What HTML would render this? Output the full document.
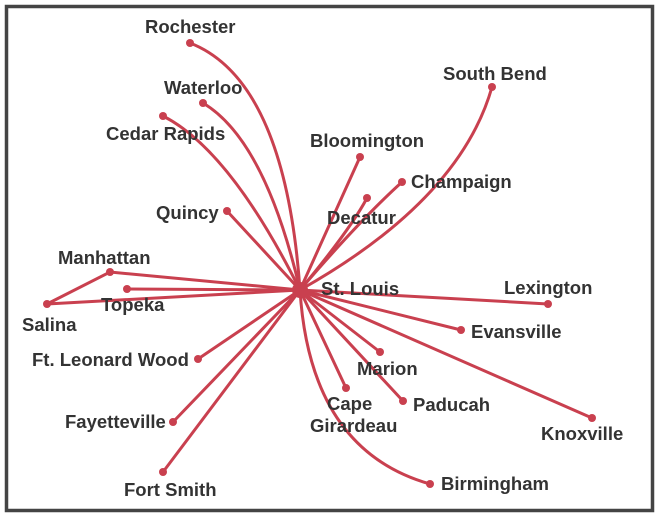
<!DOCTYPE html>
<html><head><style>
body{margin:0;background:#fff;}
svg{display:block}
text{font-family:"Liberation Sans",Arial,sans-serif;font-weight:bold;font-size:18.5px;fill:#333;}
</style></head><body>
<svg width="660" height="518" viewBox="0 0 660 518">
<rect x="0" y="0" width="660" height="518" fill="#fff"/>
<rect x="6.5" y="6.5" width="646" height="504" fill="none" stroke="#444" stroke-width="3.5"/>
<g fill="none" stroke="#c9404f" stroke-width="3" stroke-linecap="round">
<path d="M300 290 Q285 80 190 43"/>
<path d="M300 290 Q265 140 203 103"/>
<path d="M300 290 Q230 150 163 116"/>
<path d="M300 290 L227 211"/>
<path d="M300 290 L110 272 L47 304 L300 290"/>
<path d="M300 290 L127 289"/>
<path d="M300 290 L198 359"/>
<path d="M300 290 L173 422"/>
<path d="M300 290 L163 472"/>
<path d="M300 290 Q310 450 430 484"/>
<path d="M300 290 L346 388"/>
<path d="M300 290 L403 401"/>
<path d="M300 290 L380 352"/>
<path d="M300 290 L592 418"/>
<path d="M300 290 L461 330"/>
<path d="M300 290 L548 304"/>
<path d="M300 290 Q360 220 402 182"/>
<path d="M300 290 Q350 230 367 198"/>
<path d="M300 290 L360 157"/>
<path d="M300 290 Q460 200 492 87"/>
</g>
<circle cx="300" cy="290" r="8" fill="#c9404f"/>
<g fill="#c9404f">
<circle cx="190" cy="43" r="4"/><circle cx="203" cy="103" r="4"/><circle cx="163" cy="116" r="4"/>
<circle cx="227" cy="211" r="4"/><circle cx="110" cy="272" r="4"/><circle cx="127" cy="289" r="4"/>
<circle cx="47" cy="304" r="4"/><circle cx="198" cy="359" r="4"/><circle cx="173" cy="422" r="4"/>
<circle cx="163" cy="472" r="4"/><circle cx="430" cy="484" r="4"/><circle cx="346" cy="388" r="4"/>
<circle cx="403" cy="401" r="4"/><circle cx="380" cy="352" r="4"/><circle cx="592" cy="418" r="4"/>
<circle cx="461" cy="330" r="4"/><circle cx="548" cy="304" r="4"/><circle cx="402" cy="182" r="4"/>
<circle cx="367" cy="198" r="4"/><circle cx="360" cy="157" r="4"/><circle cx="492" cy="87" r="4"/>
</g>
<text x="145" y="33">Rochester</text>
<text x="164" y="94">Waterloo</text>
<text x="106" y="140">Cedar Rapids</text>
<text x="156" y="219">Quincy</text>
<text x="58" y="264">Manhattan</text>
<text x="101" y="311">Topeka</text>
<text x="22" y="331">Salina</text>
<text x="32" y="366">Ft. Leonard Wood</text>
<text x="65" y="428">Fayetteville</text>
<text x="124" y="496">Fort Smith</text>
<text x="310" y="147">Bloomington</text>
<text x="327" y="224">Decatur</text>
<text x="411" y="188">Champaign</text>
<text x="443" y="80">South Bend</text>
<text x="321" y="295">St. Louis</text>
<text x="504" y="294">Lexington</text>
<text x="471" y="338">Evansville</text>
<text x="357" y="375">Marion</text>
<text x="413" y="411">Paducah</text>
<text x="327" y="410">Cape</text>
<text x="310" y="432">Girardeau</text>
<text x="541" y="440">Knoxville</text>
<text x="441" y="490">Birmingham</text>
</svg>
</body></html>
